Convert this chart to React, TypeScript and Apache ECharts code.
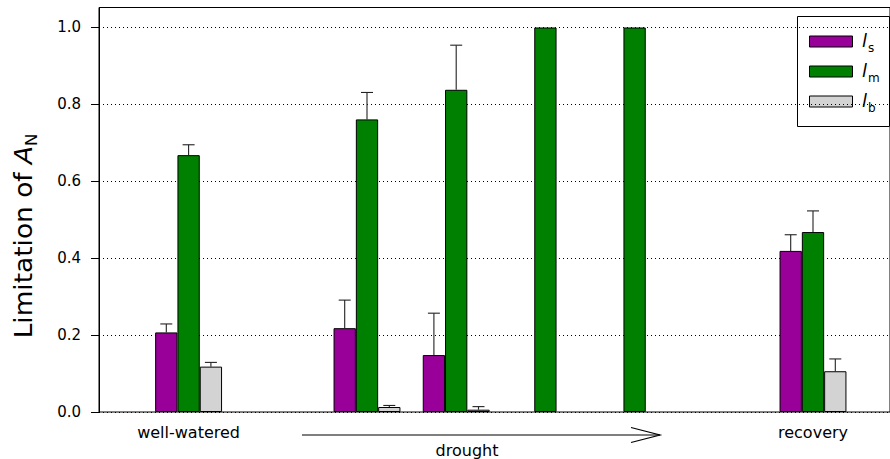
import React, { useEffect, useRef } from "react";
import * as echarts from "echarts";

// ---- data ----
const slots = ["well-watered", "gap-a", "drought-1", "drought-2", "drought-3", "drought-4", "gap-b", "recovery"];
const slotLabels = ["well-watered", "", "", "", "", "", "", "recovery"];
const seriesNames = ["ls", "lm", "lb"];
const seriesSubs = ["s", "m", "b"];
const seriesColors = ["#990099", "#008000", "#D3D3D3"];
const lsValues = [0.207, null, 0.218, 0.148, null, null, null, 0.419];
const lmValues = [0.668, null, 0.761, 0.838, 1.0, 1.0, null, 0.468];
const lbValues = [0.118, null, 0.013, 0.006, null, null, null, 0.106];
const lsUpper = [0.229, null, 0.291, 0.257, null, null, null, 0.461];
const lmUpper = [0.695, null, 0.831, 0.954, null, null, null, 0.523];
const lbUpper = [0.129, null, 0.017, 0.014, null, null, null, 0.138];
const yTicks = [0, 0.2, 0.4, 0.6, 0.8, 1.0];
const yMax = 1.052;

const FONT = "DejaVu Sans";

export default function App() {
  const ref = useRef<HTMLDivElement>(null);
  useEffect(() => {
    document.body.style.margin = "0";
    if (!ref.current) return;
    const chart = echarts.init(ref.current, null, { renderer: "svg" });
    const values = [lsValues, lmValues, lbValues];
    const uppers = [lsUpper, lmUpper, lbUpper];
    const errData: any[] = [];
    values.forEach((vals, si) => {
      vals.forEach((v, ci) => {
        const u = uppers[si][ci];
        if (v != null && u != null) errData.push([ci, si, v, u]);
      });
    });
    const catGap = 0.25;
    const option: any = {
      animation: false,
      backgroundColor: "#fff",
      textStyle: { fontFamily: FONT },
      grid: [
        { left: 144, width: 713.6, top: 7.5, bottom: 47 },
        { left: 99, right: -5, top: 7.5, bottom: 47, show: true, borderColor: "#000", borderWidth: 1, backgroundColor: "transparent" },
      ],
      xAxis: [
        {
          type: "category",
          gridIndex: 0,
          data: slots,
          axisLine: { show: false },
          axisTick: { show: false },
          axisLabel: {
            interval: 0,
            margin: 12,
            fontSize: 16,
            color: "#000",
            fontFamily: FONT,
            formatter: (_v: string, i: number) => slotLabels[i],
          },
        },
        { type: "value", gridIndex: 1, show: false, min: 0, max: 1 },
      ],
      yAxis: [
        { type: "value", gridIndex: 0, min: 0, max: yMax, show: false },
        {
          type: "value",
          gridIndex: 1,
          min: 0,
          max: yMax,
          interval: 0.2,
          axisLine: { show: true, lineStyle: { color: "#000", width: 1 } },
          axisTick: { show: true, inside: false, length: 8, lineStyle: { color: "#000" }, customValues: yTicks },
          axisLabel: {
            customValues: yTicks,
            margin: 18,
            fontSize: 15,
            color: "#000",
            fontFamily: FONT,
            formatter: (v: number) => v.toFixed(1),
          },
          splitLine: { show: true, lineStyle: { color: "#000", width: 1, type: [1, 3] } },
        },
      ],
      series: [
        ...seriesNames.map((name, si) => ({
          type: "bar",
          name,
          xAxisIndex: 0,
          yAxisIndex: 0,
          data: values[si],
          barGap: "0%",
          barCategoryGap: catGap * 100 + "%",
          itemStyle: { color: seriesColors[si], borderColor: "#000", borderWidth: 1 },
          z: 3,
        })),
        {
          type: "custom",
          xAxisIndex: 0,
          yAxisIndex: 0,
          data: errData,
          encode: { x: 0, y: [2, 3] },
          z: 4,
          renderItem: (_p: any, api: any) => {
            const ci = api.value(0);
            const si = api.value(1);
            const v = api.value(2);
            const u = api.value(3);
            const band = api.size([1, 0])[0];
            const bw = (band * (1 - catGap)) / 3;
            const cx = api.coord([ci, 0])[0] + (si - 1) * bw;
            const y0 = api.coord([ci, v])[1];
            const y1 = api.coord([ci, u])[1];
            const cap = 6;
            const st = { stroke: "#222", lineWidth: 1.1 };
            return {
              type: "group",
              children: [
                { type: "line", shape: { x1: cx, y1: y0, x2: cx, y2: y1 }, style: st },
                { type: "line", shape: { x1: cx - cap, y1: y1, x2: cx + cap, y2: y1 }, style: st },
              ],
            };
          },
        },
      ],
      graphic: [
        // y-axis title
        {
          type: "text",
          x: 24,
          y: 236,
          rotation: Math.PI / 2,
          scaleX: 1.1,
          style: {
            text: "Limitation of {a|A}{n|N}",
            fontSize: 24,
            fontFamily: FONT,
            fill: "#000",
            align: "center",
            verticalAlign: "middle",
            rich: {
              a: { fontSize: 24, fontStyle: "italic", fontFamily: FONT, fill: "#000", lineHeight: 31 },
              n: { fontSize: 15, fontFamily: FONT, fill: "#000", verticalAlign: "bottom", lineHeight: 17 },
            },
          },
        },
        // drought arrow
        { type: "line", shape: { x1: 302, y1: 435, x2: 660, y2: 435 }, style: { stroke: "#000", lineWidth: 1.2 } },
        { type: "polyline", shape: { points: [[631, 427.5], [660, 435], [631, 442.5]] }, style: { stroke: "#000", lineWidth: 1.2, fill: null } },
        {
          type: "text",
          x: 467,
          y: 450,
          style: { text: "drought", fontSize: 16, fontFamily: FONT, fill: "#000", align: "center", verticalAlign: "middle" },
        },
        // legend
        {
          type: "group",
          children: [
            { type: "rect", shape: { x: 797.5, y: 16.5, width: 92, height: 110 }, style: { fill: "#fff", stroke: "#000", lineWidth: 1 } },
            ...seriesNames.flatMap((_n, i) => {
              const cy = 41.5 + i * 30;
              return [
                { type: "rect", shape: { x: 809.5, y: cy - 5.5, width: 43, height: 11 }, style: { fill: seriesColors[i], stroke: "#000", lineWidth: 1 } },
                {
                  type: "text",
                  x: 862,
                  y: cy - 1,
                  style: { text: "l", fontSize: 18, fontStyle: "italic", fontFamily: FONT, fill: "#000", align: "left", verticalAlign: "middle" },
                },
                {
                  type: "text",
                  x: 868,
                  y: cy + 6,
                  style: { text: seriesSubs[i], fontSize: 12, fontFamily: FONT, fill: "#000", align: "left", verticalAlign: "middle" },
                },
              ];
            }),
          ],
        },
      ],
    };
    chart.setOption(option);
    return () => chart.dispose();
  }, []);
  return <div ref={ref} style={{ width: 890, height: 459 }} />;
}
